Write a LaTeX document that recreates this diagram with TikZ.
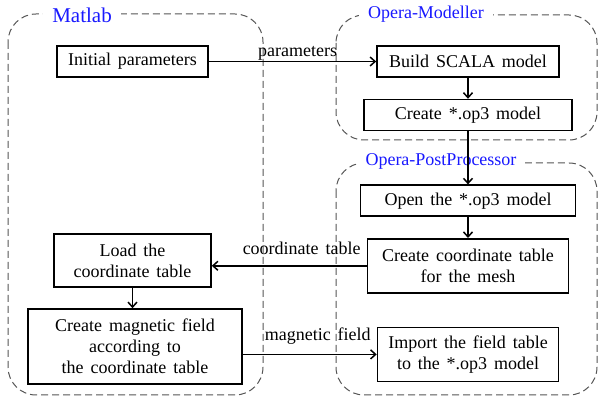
\documentclass[tikz,border=0pt]{standalone}
\usepackage{fontspec}
\setmainfont{Liberation Serif}
\usetikzlibrary{positioning,arrows.meta}
\definecolor{mygray}{RGB}{85,85,85}
\definecolor{myblue}{RGB}{25,25,255}
\newcommand\myspace{\spaceskip=0.38em plus 0.1em\relax}
\newcommand\mybox[4][]{%
  \node[mybox,#1,minimum width=#2pt] (#3) {#4};
}

\begin{document}
\begin{tikzpicture}[
x=1pt,y=-1pt,
node distance=21pt,
mybox/.style={
  draw,
  line width=1.6pt,
  minimum height=31pt,
  inner sep=0pt,
  align=center,
  font=\fontsize{18}{21}\selectfont\myspace},
mygroup/.style={
  draw=mygray,
  dash pattern=on 7pt off 4pt,
  line width=1pt,
  rounded corners=28pt},
mylabel/.style={
  fill=white,
  text=myblue,
  inner xsep=9pt,
  inner ysep=1pt,
  font=\fontsize{18}{21}\selectfont},
mytag/.style={
  anchor=base,
  inner sep=0pt,
  font=\fontsize{18}{21}\selectfont\myspace},
myarrow/.style={-{Straight Barb[length=5pt,width=9pt]},line width=1.5pt}
]
\useasboundingbox (0,0) rectangle (598,398);
% groups
\draw[mygroup] (8,14) rectangle (263,395);
\draw[mygroup] (336,15) rectangle (597,140);
\draw[mygroup] (336,163) rectangle (597,395);
\node[mylabel,font=\fontsize{21}{24}\selectfont] (matlab) at (82,15) {Matlab};
\node[mylabel] (modeller) at (426,14) {Opera-Modeller};
\node[mylabel] (post) at (441,161) {Opera-PostProcessor};
% boxes
\node[mybox,minimum width=151pt] (init) at (132.5,61.5) {Initial parameters};
\node[mybox,minimum width=182pt] (build) at (468,61.5) {Build SCALA model};
\mybox[below=of build]{208}{create}{Create *.op3 model}
\mybox[below=53pt of create]{215}{open}{Open the *.op3 model}
\mybox[below=of open,minimum height=54pt]{201}{coord}{Create coordinate table\\for the mesh}
\mybox[below=33pt of coord,minimum height=54pt]{181}{import}{Import the field table\\to the *.op3 model}
\node[mybox,minimum width=157pt,minimum height=53pt] (load) at (132.5,260.5) {Load the\\coordinate table};
\node[mybox,minimum width=214pt,minimum height=75pt] (field) at (135,346.5) {Create magnetic field\\according to\\the coordinate table};
% arrows
\draw[myarrow] (init) -- node[mytag,pos=0.53,yshift=4.5pt] {parameters} (build);
\draw[myarrow] (build) -- (create);
\draw[myarrow] (create) -- (open);
\draw[myarrow] (open) -- (coord);
\draw[myarrow] (coord.west) -- node[mytag,pos=0.42,yshift=11pt] {coordinate table} (coord.west -| load.east);
\draw[myarrow] (load.south) -- (load.south |- field.north);
\draw[myarrow] (field.east |- import.west) -- node[mytag,pos=0.56,yshift=14pt] {magnetic field} (import.west);
\end{tikzpicture}
\end{document}
